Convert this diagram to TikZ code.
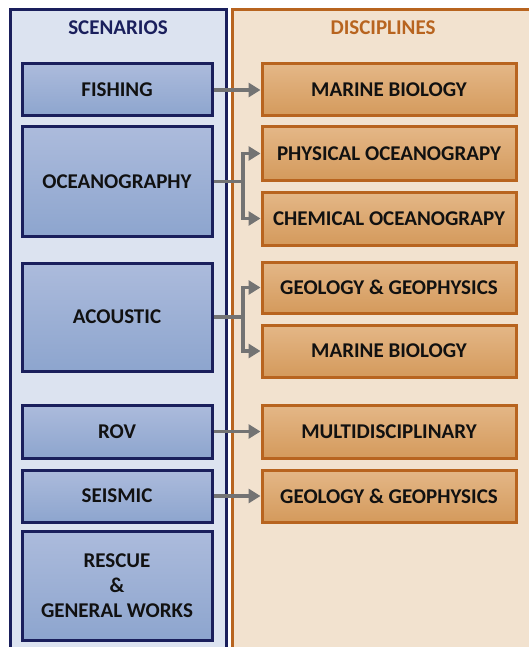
\documentclass[tikz,border=0pt]{standalone}
\usepackage{fontspec}
\setmainfont{Carlito}
\usetikzlibrary{positioning,arrows.meta}

\definecolor{navy}{HTML}{1A1F5C}
\definecolor{rust}{HTML}{B8641F}
\definecolor{arrowgray}{HTML}{737373}
\definecolor{ink}{HTML}{111111}

\tikzstyle{panelL} = [rectangle, draw=navy, line width=3pt, fill={rgb,255:red,220;green,227;blue,240}]
\tikzstyle{panelR} = [rectangle, draw=rust, line width=3pt, fill={rgb,255:red,242;green,226;blue,207}]
\tikzstyle{scen} = [rectangle, minimum width=190pt, draw=navy, line width=3pt,
top color={rgb,255:red,172;green,187;blue,220}, bottom color={rgb,255:red,141;green,165;blue,206},
text centered, align=center, text=ink, font=\fontsize{21}{25}\selectfont\bfseries]
\tikzstyle{disc} = [rectangle, minimum width=254pt, draw=rust, line width=3pt,
top color={rgb,255:red,228;green,183;blue,135}, bottom color={rgb,255:red,212;green,154;blue,92},
text centered, text=ink, font=\fontsize{21}{25}\selectfont\bfseries]
\tikzstyle{link} = [line width=3.5pt, draw=arrowgray, -{Triangle[length=12pt,width=14pt]}]

\begin{document}
\begin{tikzpicture}[x=1pt, y=-1pt]
  \useasboundingbox (0,0) rectangle (529,647);
  % panels
  \draw[panelL] (10,10) rectangle (226,660);
  \draw[panelR] (232,10) rectangle (540,660);
  \node (scentitle) at (118,28) [font=\fontsize{21}{25}\selectfont\bfseries, text=navy] {SCENARIOS};
  \node (disctitle) at (383,28) [font=\fontsize{21}{25}\selectfont\bfseries, text=rust] {DISCIPLINES};
  % scenarios
  \node (fish) [scen, minimum height=52pt] at (117,90) {FISHING};
  \node (ocean) [scen, minimum height=109pt] at (117,181.5) {OCEANOGRAPHY};
  \node (acou) [scen, minimum height=108pt] at (117,317) {ACOUSTIC};
  \node (rov) [scen, minimum height=53pt] at (117,431.5) {ROV};
  \node (seis) [scen, minimum height=52pt] at (117,496) {SEISMIC};
  \node (resc) [scen, minimum height=109pt] at (117,585.5) {RESCUE\\\&\\GENERAL WORKS};
  % disciplines
  \node (marbio) [disc, minimum height=52pt] at (389,90) {MARINE BIOLOGY};
  \node (phys) [disc, minimum height=53pt] at (389,153.5) {PHYSICAL OCEANOGRAPY};
  \node (chem) [disc, minimum height=53pt] at (389,218.5) {CHEMICAL OCEANOGRAPY};
  \node (geo) [disc, minimum height=51pt] at (389,287.5) {GEOLOGY \& GEOPHYSICS};
  \node (marbiob) [disc, minimum height=52pt] at (389,351) {MARINE BIOLOGY};
  \node (multi) [disc, minimum height=53pt] at (389,431.5) {MULTIDISCIPLINARY};
  \node (geob) [disc, minimum height=52pt] at (389,496) {GEOLOGY \& GEOPHYSICS};
  % branch points
  \coordinate (oceanfork) at (243,181.5);
  \coordinate (acoufork) at (243,317);
  % connections
  \draw[link] (fish) -- (marbio);
  \draw[link] (ocean) -- (oceanfork) |- (phys);
  \draw[link] (oceanfork) |- (chem);
  \draw[link] (acou) -- (acoufork) |- (geo);
  \draw[link] (acoufork) |- (marbiob);
  \draw[link] (rov) -- (multi);
  \draw[link] (seis) -- (geob);
\end{tikzpicture}
\end{document}
